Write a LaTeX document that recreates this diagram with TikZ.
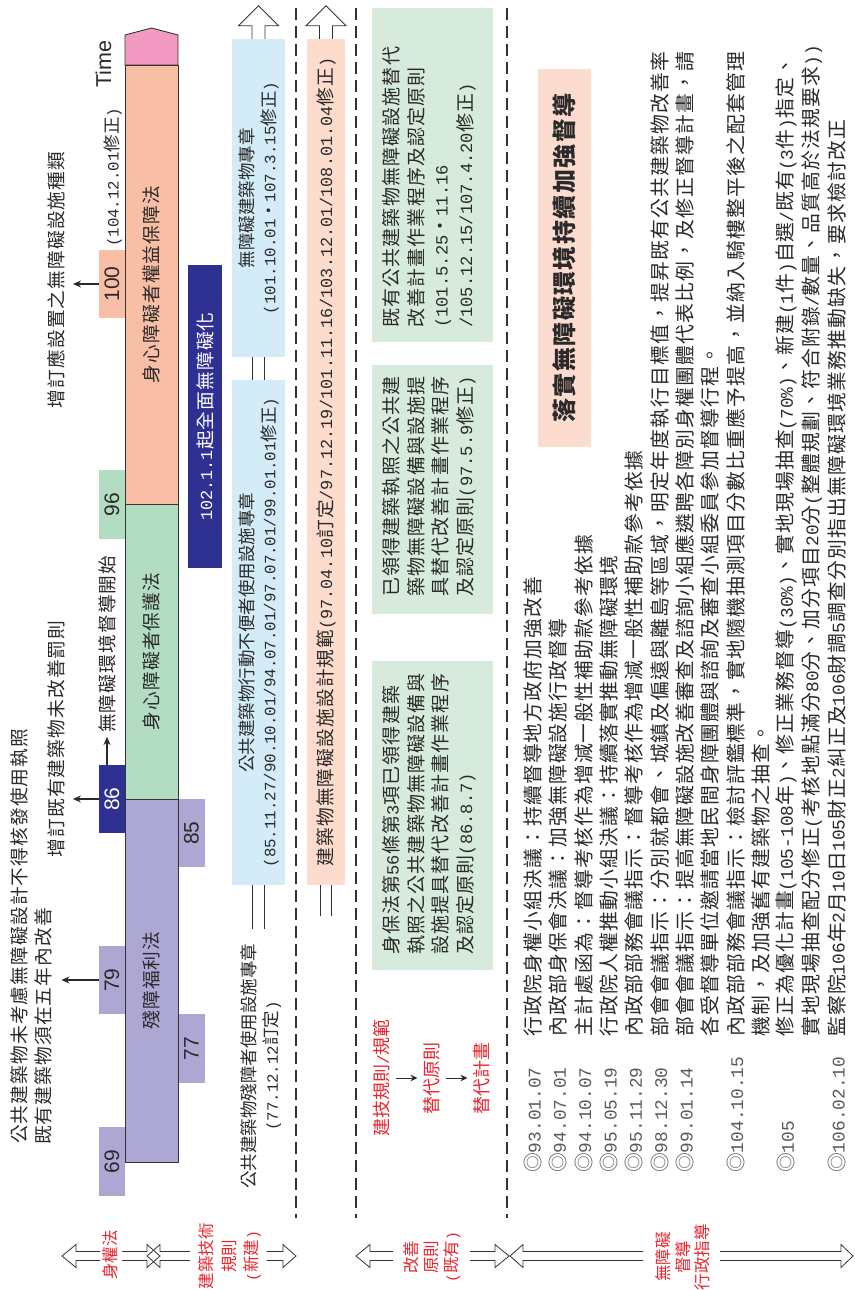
\documentclass[tikz,border=0pt]{standalone}
\usepackage{fontspec}
\setmainfont{Noto Sans CJK TC}
\newfontfamily\cjw{Noto Sans CJK TC}[LetterSpace=6]
\newfontfamily\cjn{Noto Sans CJK TC}
\newfontfamily\monof{Liberation Mono}[Scale=0.9]
\newfontfamily\arialf{Liberation Sans}
\usetikzlibrary{arrows.meta}
\newcommand\myhw[1]{{\monof #1}}
\definecolor{cText}{HTML}{2A2A2A}
\definecolor{cDate}{HTML}{5A5A5A}
\definecolor{cLine}{HTML}{333333}
\definecolor{cPink}{HTML}{F39AC2}
\definecolor{cSalmon}{HTML}{F9BEA6}
\definecolor{cGreen}{HTML}{B3DDC2}
\definecolor{cPurple}{HTML}{ADA8D3}
\definecolor{cNavy}{HTML}{2E3192}
\definecolor{cBlue}{HTML}{D3ECF8}
\definecolor{cSbox}{HTML}{FDDCCD}
\definecolor{cGbox}{HTML}{D6EBDC}
\definecolor{cTbox}{HTML}{FCDCCF}
\definecolor{cRed}{HTML}{E8262D}
\begin{document}
\begin{tikzpicture}[x=1pt,y=-1pt,
  rot/.style={rotate=90, inner sep=0pt, text=cText},
  fa/.style={font=\cjw\fontsize{18.7}{23}\selectfont},
  fb/.style={font=\cjn\fontsize{17.5}{22}\selectfont},
  fc/.style={font=\cjw\fontsize{19}{24.5}\selectfont},
  body/.style={rot, anchor=west, font=\cjw\fontsize{19.8}{25}\selectfont},
  datel/.style={body, text=cDate},
  tab/.style={rot, minimum height=26pt, font=\arialf\fontsize{21}{24}\selectfont},
  barsec/.style={rot, draw=cLine, line width=0.9pt, minimum height=53pt, fa},
  tabarr/.style={draw=cText, line width=1.1pt, -{Stealth[length=8pt,width=7pt]}},
  smallarr/.style={draw=cText, line width=1pt, -{Stealth[length=7pt,width=6.5pt]}},
  dbl/.style={draw=cLine, double=white, double distance=10.5pt, line width=0.9pt},
  hollow/.style={draw=cLine, line width=0.8pt, line join=miter},
  dashline/.style={draw=cLine, line width=1.2pt, dash pattern=on 12pt off 6pt},
  redlab/.style={rot, text=cRed, font=\cjn\fontsize{16.5}{21}\selectfont, align=center},
  redmid/.style={rot, text=cRed, font=\cjn\fontsize{18}{22}\selectfont}
]
\useasboundingbox (0,0) rectangle (854,1290);
\fill[white] (0,0) rectangle (854,1290);

% dashed separators
\draw[dashline] (296,8) -- (296,1218);
\draw[dashline] (356,8) -- (356,1218);
\draw[dashline] (507,8) -- (507,1218);

% year tabs
\node[tab, fill=cSalmon, minimum width=68pt] (t100) at (112,284) {100};
\node[tab, fill=cGreen, minimum width=69pt] (t96) at (112,504.5) {96};
\node[tab, fill=cNavy, minimum width=68pt, text=white] (t86) at (112,799) {86};
\node[tab, fill=cPurple, minimum width=68pt] (t85) at (191.5,833) {85};
\node[tab, fill=cPurple, minimum width=68pt] (t79) at (112,980) {79};
\node[tab, fill=cPurple, minimum width=69pt] (t77) at (191.5,1048.5) {77};
\node[tab, fill=cPurple, minimum width=69pt] (t69) at (112,1161.5) {69};

% time bar
\draw[draw=cLine, line width=0.9pt, fill=cPink] (125,65) -- (125,35) -- (151.5,28) -- (178,35) -- (178,65) -- cycle;
\node[barsec, fill=cSalmon, minimum width=439pt] (b1) at (151.5,284.5) {身心障礙者權益保障法};
\node[barsec, fill=cGreen, minimum width=295pt] (b2) at (151.5,651.5) {身心障礙者保護法};
\node[barsec, fill=cPurple, minimum width=363pt] (b3) at (151.5,980.5) {殘障福利法};

% column 1 labels
\node[rot, font=\arialf\fontsize{21.5}{24}\selectfont] (time) at (103.5,64) {Time};
\node[rot, fb, anchor=west] (l104) at (113,247) {\myhw{(104.12.01}修正\myhw{)}};
\node[rot, fa] (l100) at (56,280) {增訂應設置之無障礙設施種類};
\node[rot, fa] (l86) at (56,739) {增訂既有建築物未改善罰則};
\node[rot, fa, anchor=west] (l86b) at (107,733) {無障礙環境督導開始};
\node[rot, fa, anchor=west] (l79a) at (19.5,1144) {公共建築物未考慮無障礙設計不得核發使用執照};
\node[rot, fa, anchor=west] (l79b) at (43.5,1145) {既有建築物須在五年內改善};
\draw[tabarr, shorten >=8pt] (t100.north) -- (t100.north -| l100.south);
\draw[tabarr, shorten >=8pt] (t86.north) -- (t86.north -| l86.south);
\draw[tabarr, shorten >=4pt] ([xshift=-5pt]t86.east) -- (l86b.west);
\draw[tabarr, shorten >=9pt] (t79.north) -- (t79.north -| l79b.south);

% navy box
\node[rot, fa, fill=cNavy, text=white, minimum width=303pt, minimum height=34pt] (navy) at (205,416.5) {\myhw{102.1.1}起全面無障礙化};

% column 2
\node[rot, fb, align=center, fill=cBlue, minimum width=318pt, minimum height=53pt] (ub) at (258.5,198) {無障礙建築物專章\\\myhw{(101.10.01}・\myhw{107.3.15}修正\myhw{)}};
\node[rot, fb, align=center, fill=cBlue, minimum width=505pt, minimum height=53pt] (lb) at (258.5,632.5) {公共建築物行動不便者使用設施專章\\\myhw{(85.11.27/90.10.01/94.07.01/97.07.01/99.01.01}修正\myhw{)}};
\node[rot, fb, align=center] (old) at (261,1066) {公共建築物殘障者使用設施專章\\\myhw{(77.12.12}訂定\myhw{)}};
\draw[dbl] (ub.west) -- (lb.east);
\draw[dbl, shorten >=14pt] (lb.west) -- (lb.west |- old.east);
\draw[hollow] ([xshift=-6.5pt]ub.east) -- ++(0,-13) -- ++(-13.5,0) -- ++(20,-20) -- ++(20,20) -- ++(-13.5,0) -- ++(0,13);

% column 3
\node[rot, fa, fill=cSbox, minimum width=846pt, minimum height=38pt] (sb) at (326,462) {建築物無障礙設施設計規範\myhw{(97.04.10}訂定\myhw{/97.12.19/101.11.16/103.12.01/108.01.04}修正\myhw{)}};
\coordinate (sbend) at (326,916);
\draw[dbl] (sb.west) -- (sbend);
\draw[hollow] ([xshift=-6.5pt]sb.east) -- ++(0,-13) -- ++(-13.5,0) -- ++(20,-20) -- ++(20,20) -- ++(-13.5,0) -- ++(0,13);

% column 4 boxes
\node[rot, fill=cGbox, minimum width=334pt, minimum height=121pt] (g1) at (432.5,175) {};
\node[rot, fc, align=left, anchor=west] (g1t) at (429,328) {既有公共建築物無障礙設施替代\\改善計畫作業程序及認定原則\\\myhw{(101.5.25}・\myhw{11.16}\\\myhw{/105.12.15/107.4.20}修正\myhw{)}};
\node[rot, fill=cGbox, minimum width=249pt, minimum height=121pt] (g2) at (432.5,489.5) {};
\node[rot, fc, align=left, anchor=west] (g2t) at (429,597) {已領得建築執照之公共建\\築物無障礙設備與設施提\\具替代改善計畫作業程序\\及認定原則\myhw{(97.5.9}修正\myhw{)}};
\node[rot, fill=cGbox, minimum width=309pt, minimum height=121pt] (g3) at (432.5,815.5) {};
\node[rot, fc, align=left, anchor=west] (g3t) at (429,955) {身保法第\myhw{56}條第\myhw{3}項已領得建築\\執照之公共建築物無障礙設備與\\設施提具替代改善計畫作業程序\\及認定原則\myhw{(86.8.7)}};

% red flow
\node[redmid] (r1) at (382,1078) {建技規則\myhw{/}規範};
\node[redmid] (r2) at (432,1078) {替代原則};
\node[redmid] (r3) at (482,1078) {替代計畫};
\draw[smallarr, shorten <=5pt, shorten >=6pt] (r1.south) -- (r2.north);
\draw[smallarr, shorten <=5pt, shorten >=6pt] (r2.south) -- (r3.north);

% column 5
\node[rot, font=\cjw\bfseries\fontsize{24}{28}\selectfont, fill=cTbox, minimum width=378pt, minimum height=53pt] (title) at (564.5,258) {落實無障礙環境持續加強督導};

\node[datel] (d1) at (533,1173) {◎\myhw{93.01.07}};
\node[datel] (d2) at (558.3,1173) {◎\myhw{94.07.01}};
\node[datel] (d3) at (583.7,1173) {◎\myhw{94.10.07}};
\node[datel] (d4) at (609,1173) {◎\myhw{95.05.19}};
\node[datel] (d5) at (634.3,1173) {◎\myhw{95.11.29}};
\node[datel] (d6) at (659.7,1173) {◎\myhw{98.12.30}};
\node[datel] (d7) at (685,1173) {◎\myhw{99.01.14}};
\node[datel] (d9) at (735.7,1173) {◎\myhw{104.10.15}};
\node[datel] (d11) at (786.3,1173) {◎\myhw{105}};
\node[datel] (d13) at (837,1173) {◎\myhw{106.02.10}};

\node[body] (e1) at (533,1037) {行政院身權小組決議：持續督導地方政府加強改善};
\node[body] (e2) at (558.3,1037) {內政部身保會決議：加強無障礙設施行政督導};
\node[body] (e3) at (583.7,1037) {主計處函為：督導考核作為增減一般性補助款參考依據};
\node[body] (e4) at (609,1037) {行政院人權推動小組決議：持續落實推動無障礙環境};
\node[body] (e5) at (634.3,1037) {內政部部務會議指示：督導考核作為增減一般性補助款參考依據};
\node[body] (e6) at (659.7,1037) {部會會議指示：分別就都會、城鎮及偏遠與離島等區域，明定年度執行目標值，提昇既有公共建築物改善率};
\node[body] (e7) at (685,1037) {部會會議指示：提高無障礙設施改善審查及諮詢小組應遴聘各障別身權團體代表比例，及修正督導計畫，請};
\node[body] (e8) at (710.3,1037) {各受督導單位邀請當地民間身障團體與諮詢及審查小組委員參加督導行程。};
\node[body] (e9) at (735.7,1037) {內政部部務會議指示：檢討評鑑標準，實地隨機抽測項目分數比重應予提高，並納入騎樓整平後之配套管理};
\node[body] (e10) at (761,1037) {機制，及加強舊有建築物之抽查。};
\node[body] (e11) at (786.3,1037) {修正為優化計畫\myhw{(105-108}年\myhw{)}、修正業務督導\myhw{(30\%)}、實地現場抽查\myhw{(70\%)}、新建\myhw{(1}件\myhw{)}自選\myhw{/}既有\myhw{(3}件\myhw{)}指定、};
\node[body] (e12) at (811.7,1037) {實地現場抽查配分修正\myhw{(}考核地點滿分\myhw{80}分、加分項目\myhw{20}分\myhw{(}整體規劃、符合附錄\myhw{/}數量、品質高於法規要求\myhw{))}};
\node[body] (e13) at (837,1037) {監察院\myhw{106}年\myhw{2}月\myhw{10}日\myhw{105}財正\myhw{2}糾正及\myhw{106}財調\myhw{5}調查分別指出無障礙環境業務推動缺失，要求檢討改正};

% bottom category labels
\node[redlab] (bl1) at (110,1255) {身權法};
\node[redlab, font=\cjn\fontsize{16.5}{22.5}\selectfont] (bl2) at (230,1256) {建築技術\\規則\\\myhw{(}新建\myhw{)}};
\node[redlab, font=\cjn\fontsize{16.5}{20}\selectfont] (bl3) at (432,1257) {改善\\原則\\\myhw{(}既有\myhw{)}};
\node[redlab, font=\cjn\fontsize{16.5}{19.5}\selectfont] (bl4) at (683,1257) {無障礙\\督導\\行政指導};

% bottom hollow span arrows
\foreach \e/\b/\t in {100/76/62, 122/147/160, 190/160/147, 267/283/296, 393/370/356, 470/495/509, 643/523/510, 720/841/853}{
  \draw[hollow] (\e,1251.5) -- (\b,1251.5) -- (\b,1244.5) -- (\t,1256) -- (\b,1267.5) -- (\b,1260.5) -- (\e,1260.5);
}
\end{tikzpicture}
\end{document}
